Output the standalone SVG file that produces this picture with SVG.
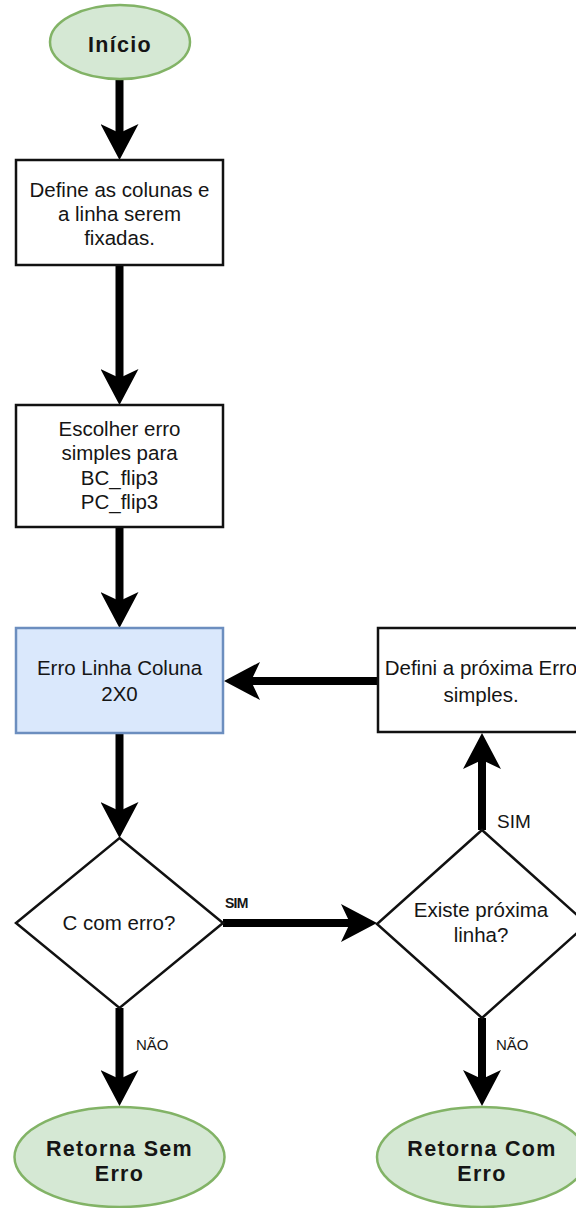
<svg xmlns="http://www.w3.org/2000/svg" width="576" height="1208" viewBox="0 0 576 1208">
  <style>
    .box { fill: #ffffff; stroke: #111111; stroke-width: 2.5; }
    .proc { fill: #dae8fc; stroke: #6c8ebf; stroke-width: 2.5; }
    .term { fill: #d5e8d4; stroke: #82b366; stroke-width: 2.5; }
    .dec { fill: #ffffff; stroke: #111111; stroke-width: 2.5; }
    .t { font-family: "Liberation Sans", Arial, sans-serif; font-size: 20.5px; fill: #151515; text-anchor: middle; }
    .tb { font-family: "Liberation Sans", Arial, sans-serif; font-size: 21.5px; font-weight: bold; letter-spacing: 1.3px; fill: #151515; text-anchor: middle; }
    .lbl { font-family: "Liberation Sans", Arial, sans-serif; fill: #151515; }
    .edge { fill: none; stroke: #000000; stroke-width: 8; }
  </style>
  <defs>
    <marker id="head" viewBox="0 0 36 38" refX="9" refY="19" markerWidth="36" markerHeight="38" markerUnits="userSpaceOnUse" orient="auto">
      <path d="M0,0 L36,19 L0,38 L9,19 Z" fill="#000000"/>
    </marker>
  </defs>

  <rect width="576" height="1208" fill="#ffffff"/>

  <g id="connectors">
    <line class="edge" x1="119.5" y1="80" x2="119.5" y2="133" marker-end="url(#head)"/>
    <line class="edge" x1="119.5" y1="265" x2="119.5" y2="378" marker-end="url(#head)"/>
    <line class="edge" x1="119.5" y1="527" x2="119.5" y2="601" marker-end="url(#head)"/>
    <line class="edge" x1="119.5" y1="733" x2="119.5" y2="811" marker-end="url(#head)"/>
    <line class="edge" x1="378" y1="681" x2="251" y2="681" marker-end="url(#head)"/>
    <line class="edge" x1="223" y1="923" x2="350" y2="923" marker-end="url(#head)"/>
    <line class="edge" x1="482" y1="830" x2="482" y2="760" marker-end="url(#head)"/>
    <line class="edge" x1="119.5" y1="1008" x2="119.5" y2="1079" marker-end="url(#head)"/>
    <line class="edge" x1="482" y1="1018" x2="482" y2="1079" marker-end="url(#head)"/>
    <text class="lbl" x="225" y="908" style="font-size:14px;font-weight:bold;letter-spacing:-0.8px">SIM</text>
    <text class="lbl" x="497" y="828" style="font-size:19px">SIM</text>
    <text class="lbl" x="136" y="1050" style="font-size:15px">NÃO</text>
    <text class="lbl" x="496" y="1050" style="font-size:15px">NÃO</text>
  </g>

  <g id="inicio">
    <ellipse class="term" cx="120" cy="42" rx="70" ry="37"/>
    <text class="tb" x="120" y="52">Início</text>
  </g>

  <g id="define-colunas">
    <rect class="box" x="16" y="160" width="207" height="105"/>
    <text class="t" x="119.5" y="197">Define as colunas e</text>
    <text class="t" x="119.5" y="221">a linha serem</text>
    <text class="t" x="119.5" y="245">fixadas.</text>
  </g>

  <g id="escolher-erro">
    <rect class="box" x="16" y="405" width="207" height="122"/>
    <text class="t" x="119.5" y="436">Escolher erro</text>
    <text class="t" x="119.5" y="460">simples para</text>
    <text class="t" x="119.5" y="485">BC_flip3</text>
    <text class="t" x="119.5" y="509">PC_flip3</text>
  </g>

  <g id="erro-linha-coluna">
    <rect class="proc" x="16" y="628" width="207" height="105"/>
    <text class="t" x="119.5" y="675">Erro Linha Coluna</text>
    <text class="t" x="119.5" y="701">2X0</text>
  </g>

  <g id="proxima-erro">
    <rect class="box" x="378" y="628" width="208" height="104"/>
    <text class="t" x="481" y="675">Defini a próxima Erro</text>
    <text class="t" x="481" y="702">simples.</text>
  </g>

  <g id="c-com-erro">
    <polygon class="dec" points="119.5,838 223,923 119.5,1008 16,923"/>
    <text class="t" x="119" y="930">C com erro?</text>
  </g>

  <g id="existe-proxima">
    <polygon class="dec" points="482,830 587,924 482,1018 377,924"/>
    <text class="t" x="481" y="917">Existe próxima</text>
    <text class="t" x="481" y="942">linha?</text>
  </g>

  <g id="retorna-sem-erro">
    <ellipse class="term" cx="119.5" cy="1157" rx="105" ry="50"/>
    <text class="tb" x="119.5" y="1156">Retorna Sem</text>
    <text class="tb" x="119.5" y="1181">Erro</text>
  </g>

  <g id="retorna-com-erro">
    <ellipse class="term" cx="482" cy="1157" rx="105" ry="50"/>
    <text class="tb" x="482" y="1156">Retorna Com</text>
    <text class="tb" x="482" y="1181">Erro</text>
  </g>
</svg>
